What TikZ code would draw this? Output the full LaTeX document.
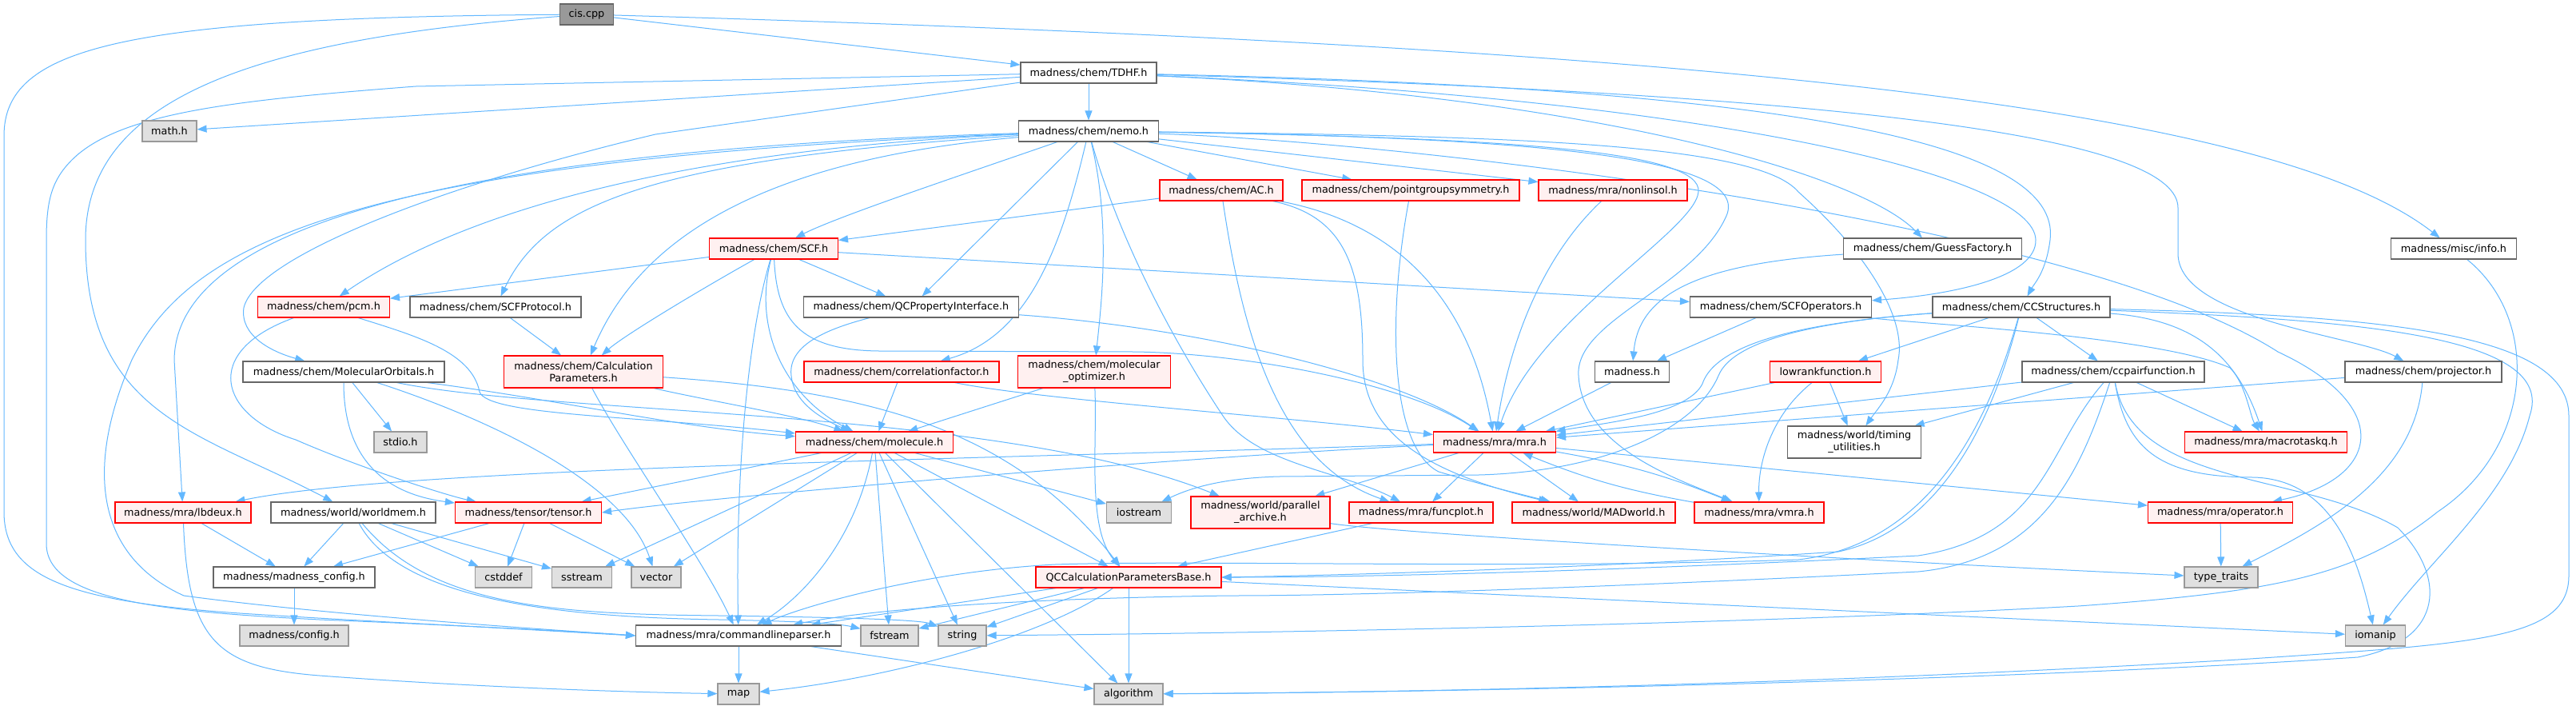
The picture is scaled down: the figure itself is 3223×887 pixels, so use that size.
\documentclass[tikz,border=0pt]{standalone}
\usepackage{fontspec}
\setmainfont{DejaVu Sans}
\usetikzlibrary{arrows.meta}
\definecolor{edgeblue}{HTML}{63B8FF}
\definecolor{truncfill}{HTML}{FFF0F0}
\definecolor{truncdraw}{HTML}{FF0000}
\definecolor{sysfill}{HTML}{E0E0E0}
\definecolor{sysdraw}{HTML}{999999}
\definecolor{plaindraw}{HTML}{666666}
\definecolor{rootfill}{HTML}{999999}
\newcommand{\dxfont}{\fontsize{12.8pt}{15pt}\selectfont}
\pgfdeclarelayer{edgelayer}
\pgfsetlayers{edgelayer,main}
\begin{document}
\begin{tikzpicture}[x=1pt,y=-1pt,
  nb/.style={rectangle, minimum height=26pt, inner sep=0pt, line width=1.1pt, font=\dxfont, align=center, text=black},
  plainbox/.style={nb, draw=plaindraw, fill=white},
  truncbox/.style={nb, draw=truncdraw, fill=truncfill},
  sysbox/.style={nb, draw=sysdraw, fill=sysfill},
  rootbox/.style={nb, draw=plaindraw, fill=rootfill},
  conn/.style={draw=edgeblue, line width=1pt, -{Triangle[length=12pt,width=9pt]}}]
\useasboundingbox (0,0) rectangle (3223,887);
% nodes
\node[rootbox, minimum width=67pt] (cis) at (734,18) {cis.cpp};
\node[plainbox, minimum width=170pt] (tdhf) at (1362,91) {madness/chem/TDHF.h};
\node[sysbox, minimum width=68pt] (mathh) at (212,164) {math.h};
\node[plainbox, minimum width=175pt] (nemo) at (1362,164) {madness/chem/nemo.h};
\node[truncbox, minimum width=154pt] (ac) at (1528,238) {madness/chem/AC.h};
\node[truncbox, minimum width=272pt] (pgs) at (1765,238) {madness/chem/pointgroupsymmetry.h};
\node[truncbox, minimum width=186pt] (nonlin) at (2018,238) {madness/mra/nonlinsol.h};
\node[truncbox, minimum width=161pt] (scf) at (968,311) {madness/chem/SCF.h};
\node[plainbox, minimum width=223pt] (guess) at (2418,311) {madness/chem/GuessFactory.h};
\node[plainbox, minimum width=157pt] (info) at (3070,311) {madness/misc/info.h};
\node[truncbox, minimum width=165pt] (pcm) at (405,384) {madness/chem/pcm.h};
\node[plainbox, minimum width=214pt] (scfprot) at (620,384) {madness/chem/SCFProtocol.h};
\node[plainbox, minimum width=269pt] (qcprop) at (1140,384) {madness/chem/QCPropertyInterface.h};
\node[plainbox, minimum width=227pt] (scfops) at (2228,384) {madness/chem/SCFOperators.h};
\node[plainbox, minimum width=222pt] (ccstruct) at (2529,384) {madness/chem/CCStructures.h};
\node[plainbox, minimum width=252pt] (mo) at (430,465) {madness/chem/MolecularOrbitals.h};
\node[truncbox, minimum width=199pt, minimum height=40pt] (calcp) at (730,465) {madness/chem/Calculation\\Parameters.h};
\node[truncbox, minimum width=244pt] (corrf) at (1128,465) {madness/chem/correlationfactor.h};
\node[truncbox, minimum width=191pt, minimum height=40pt] (molopt) at (1369,465) {madness/chem/molecular\\\_optimizer.h};
\node[plainbox, minimum width=93pt] (madnessh) at (2042,465) {madness.h};
\node[truncbox, minimum width=139pt] (lowrank) at (2284,465) {lowrankfunction.h};
\node[plainbox, minimum width=228pt] (ccpair) at (2644,465) {madness/chem/ccpairfunction.h};
\node[plainbox, minimum width=196pt] (proj) at (3032,465) {madness/chem/projector.h};
\node[sysbox, minimum width=66pt] (stdio) at (501,553) {stdio.h};
\node[truncbox, minimum width=197pt] (molecule) at (1094,553) {madness/chem/molecule.h};
\node[truncbox, minimum width=153pt] (mra) at (1870,553) {madness/mra/mra.h};
\node[plainbox, minimum width=167pt, minimum height=40pt] (timing) at (2320,553) {madness/world/timing\\\_utilities.h};
\node[truncbox, minimum width=203pt] (macrotaskq) at (2835,553) {madness/mra/macrotaskq.h};
\node[truncbox, minimum width=170pt] (lbdeux) at (229,641) {madness/mra/lbdeux.h};
\node[plainbox, minimum width=206pt] (worldmem) at (442,641) {madness/world/worldmem.h};
\node[truncbox, minimum width=183pt] (tensor) at (661,641) {madness/tensor/tensor.h};
\node[sysbox, minimum width=81pt] (iostream) at (1425,641) {iostream};
\node[truncbox, minimum width=174pt, minimum height=40pt] (parar) at (1577,641) {madness/world/parallel\\\_archive.h};
\node[truncbox, minimum width=180pt] (funcplot) at (1778,641) {madness/mra/funcplot.h};
\node[truncbox, minimum width=204pt] (madworld) at (1994,641) {madness/world/MADworld.h};
\node[truncbox, minimum width=162pt] (vmra) at (2201,641) {madness/mra/vmra.h};
\node[truncbox, minimum width=181pt] (operator) at (2778,641) {madness/mra/operator.h};
\node[plainbox, minimum width=202pt] (mconfig) at (368,722) {madness/madness\_config.h};
\node[sysbox, minimum width=71pt] (cstddef) at (630,722) {cstddef};
\node[sysbox, minimum width=75pt] (sstream) at (728,722) {sstream};
\node[sysbox, minimum width=62pt] (vector) at (821,722) {vector};
\node[truncbox, minimum width=232pt] (qcbase) at (1412,722) {QCCalculationParametersBase.h};
\node[sysbox, minimum width=92pt] (typetr) at (2779,722) {type\_traits};
\node[sysbox, minimum width=136pt] (config) at (368,795) {madness/config.h};
\node[plainbox, minimum width=257pt] (clp) at (924,795) {madness/mra/commandlineparser.h};
\node[sysbox, minimum width=72pt] (fstream) at (1113,795) {fstream};
\node[sysbox, minimum width=60pt] (string) at (1204,795) {string};
\node[sysbox, minimum width=75pt] (iomanip) at (2972,795) {iomanip};
\node[sysbox, minimum width=52pt] (map) at (924,868) {map};
\node[sysbox, minimum width=86pt] (algorithm) at (1412,868) {algorithm};
\begin{pgfonlayer}{edgelayer}
\fill[white] (0,0) rectangle (3223,887);
% cis.cpp
\draw[conn] (cis) -- (tdhf);
\draw[conn] (cis) .. controls (2200,60) and (2850,140) .. (info);
\draw[conn] (cis) .. controls (300,50) and (107,130) .. (107,300) .. controls (107,520) and (250,540) .. (worldmem);
\draw[conn] (cis) .. controls (150,22) and (5,60) .. (5,170) -- (5,640) .. controls (5,720) and (80,752) .. (300,767) .. controls (500,780) and (700,788) .. (clp.west);
% TDHF
\draw[conn] (tdhf) -- (nemo);
\draw[conn] (tdhf) -- (mathh);
\draw[conn] (tdhf) -- (520,108) .. controls (300,125) and (150,140) .. (90,200) .. controls (65,225) and (58,250) .. (58,300) -- (58,680) .. controls (58,750) and (200,765) .. (400,775) .. controls (600,783) and (700,790) .. (clp.west);
\draw[conn] (tdhf) -- (820,168) .. controls (560,230) and (320,320) .. (305,385) .. controls (300,420) and (340,440) .. (mo);
\draw[conn] (tdhf) .. controls (2250,110) and (2580,180) .. (2565,300) .. controls (2560,340) and (2545,355) .. (ccstruct);
\draw[conn] (tdhf) .. controls (2000,120) and (2330,220) .. (guess);
\draw[conn] (tdhf) .. controls (2150,125) and (2545,220) .. (2547,300) .. controls (2548,345) and (2450,368) .. (scfops);
\draw[conn] (tdhf) .. controls (2400,120) and (2725,180) .. (2725,260) -- (2725,317) .. controls (2725,400) and (2950,420) .. (proj);
% nemo
\draw[conn] (nemo) .. controls (1200,220) and (1050,270) .. (scf);
\draw[conn] (nemo) -- (ac);
\draw[conn] (nemo) -- (pgs);
\draw[conn] (nemo) -- (nonlin);
\draw[conn] (nemo) -- (qcprop);
\draw[conn] (nemo) .. controls (1330,300) and (1290,420) .. (corrf);
\draw[conn] (nemo) .. controls (1390,280) and (1378,380) .. (molopt);
\draw[conn] (nemo) .. controls (1400,300) and (1470,430) .. (1530,520) .. controls (1570,580) and (1680,590) .. (funcplot);
\draw[conn] (nemo) .. controls (1900,170) and (2200,180) .. (2250,240) .. controls (2340,320) and (2385,400) .. (2375,450) .. controls (2370,490) and (2350,510) .. (timing);
\draw[conn] (nemo) .. controls (1800,180) and (2600,280) .. (2850,440) .. controls (3000,510) and (2975,600) .. (operator);
\draw[conn] (nemo) .. controls (1900,172) and (2130,190) .. (2125,240) .. controls (2120,290) and (1920,400) .. (mra);
\draw[conn] (nemo) .. controls (1950,172) and (2190,200) .. (2160,270) .. controls (2120,360) and (1970,400) .. (1975,470) .. controls (1980,560) and (2100,600) .. (vmra);
\draw[conn] (nemo) .. controls (900,185) and (600,250) .. (pcm);
\draw[conn] (nemo) .. controls (800,200) and (680,260) .. (scfprot);
\draw[conn] (nemo) .. controls (500,190) and (220,300) .. (218,450) -- (lbdeux);
\draw[conn] (nemo) .. controls (450,200) and (240,300) .. (165,450) .. controls (100,600) and (130,700) .. (230,745) .. controls (400,768) and (650,785) .. (clp.west);
\draw[conn] (nemo) .. controls (950,200) and (800,300) .. (calcp);
% SCF
\draw[conn] (scf) -- (pcm);
\draw[conn] (scf) .. controls (880,360) and (780,420) .. (calcp);
\draw[conn] (scf) .. controls (935,420) and (920,600) .. (clp);
\draw[conn] (scf) .. controls (940,420) and (990,500) .. (molecule);
\draw[conn] (scf) .. controls (972,400) and (1000,438) .. (1100,439) -- (1420,440) .. controls (1560,442) and (1760,480) .. (mra);
\draw[conn] (scf) -- (qcprop);
\draw[conn] (scf) -- (scfops);
% AC
\draw[conn] (ac) -- (scf);
\draw[conn] (ac) .. controls (1700,270) and (1830,330) .. (mra);
\draw[conn] (ac) .. controls (1555,420) and (1600,580) .. (funcplot);
\draw[conn] (ac) .. controls (1680,270) and (1705,330) .. (1705,450) .. controls (1705,540) and (1780,590) .. (madworld);
% others upper
\draw[conn] (pgs) .. controls (1735,400) and (1740,560) .. (1800,590) .. controls (1850,605) and (1890,615) .. (madworld);
\draw[conn] (nonlin) .. controls (1920,330) and (1885,450) .. (mra);
\draw[conn] (guess) .. controls (2120,330) and (2050,370) .. (madnessh);
\draw[conn] (scfops) -- (madnessh);
\draw[conn] (scfops) .. controls (2400,405) and (2700,420) .. (2790,460) .. controls (2810,480) and (2815,520) .. (macrotaskq);
\draw[conn] (info) .. controls (3180,400) and (3170,560) .. (3050,640) .. controls (2950,720) and (2850,740) .. (2600,758) .. controls (2200,780) and (1600,792) .. (string);
% CCStructures
\draw[conn] (ccstruct) -- (ccpair);
\draw[conn] (ccstruct) -- (lowrank);
\draw[conn] (ccstruct) .. controls (2300,400) and (2150,420) .. (2130,480) .. controls (2110,520) and (2000,530) .. (mra);
\draw[conn] (ccstruct) .. controls (2300,400) and (2170,420) .. (2150,470) .. controls (2120,540) and (2000,590) .. (1850,594) -- (1600,596) .. controls (1530,598) and (1490,610) .. (iostream);
\draw[conn] (ccstruct) .. controls (2500,500) and (2440,660) .. (2300,690) .. controls (2000,710) and (1700,719) .. (qcbase.east);
\draw[conn] (ccstruct) .. controls (2490,520) and (2420,680) .. (2250,700) .. controls (1900,712) and (1500,700) .. (1320,706) .. controls (1150,715) and (1000,760) .. (clp);
\draw[conn] (ccstruct) .. controls (2750,400) and (2800,450) .. (macrotaskq);
\draw[conn] (ccstruct) .. controls (3000,395) and (3214,420) .. (3214,520) -- (3214,720) .. controls (3214,800) and (3100,805) .. (2800,825) .. controls (2200,860) and (1700,866) .. (algorithm);
\draw[conn] (ccstruct) .. controls (2950,400) and (3200,420) .. (3165,520) .. controls (3140,620) and (3040,700) .. (iomanip);
% ccpairfunction
\draw[conn] (ccpair) -- (macrotaskq);
\draw[conn] (ccpair) -- (mra);
\draw[conn] (ccpair) -- (timing);
\draw[conn] (ccpair) .. controls (2560,560) and (2560,670) .. (2400,695) .. controls (2000,715) and (1700,722) .. (qcbase.east);
\draw[conn] (ccpair) .. controls (2600,600) and (2550,700) .. (2400,715) .. controls (2000,735) and (1700,745) .. (1540,745) .. controls (1300,748) and (1100,760) .. (clp);
\draw[conn] (ccpair) .. controls (2660,560) and (2700,597) .. (2820,597) .. controls (2920,600) and (2950,700) .. (iomanip);
\draw[conn] (ccpair) .. controls (2670,610) and (2880,590) .. (3000,660) .. controls (3060,720) and (3060,800) .. (2950,822) .. controls (2500,852) and (1800,866) .. (algorithm);
% lowrank, madness.h, projector
\draw[conn] (lowrank) -- (mra);
\draw[conn] (lowrank) -- (timing);
\draw[conn] (lowrank) .. controls (2215,520) and (2200,580) .. (vmra);
\draw[conn] (madnessh) -- (mra);
\draw[conn] (proj) .. controls (3020,600) and (2900,660) .. (typetr);
\draw[conn] (proj) -- (mra);
% mra
\draw[conn] (mra) .. controls (1200,575) and (500,585) .. (lbdeux);
\draw[conn] (mra) .. controls (1500,570) and (900,620) .. (tensor.east);
\draw[conn] (mra) -- (parar);
\draw[conn] (mra) -- (funcplot);
\draw[conn] (mra) -- (madworld);
\draw[conn] (mra) to[bend left=6] (vmra);
\draw[conn] (vmra) to[bend left=6] (mra);
\draw[conn] (mra) -- (operator);
\draw[conn] (funcplot) -- (qcbase);
\draw[conn] (parar) .. controls (1750,668) and (2400,705) .. (typetr);
\draw[conn] (operator) -- (typetr);
% pcm, SCFProtocol, QCPropertyInterface
\draw[conn] (pcm) .. controls (250,440) and (275,520) .. (370,550) .. controls (450,585) and (560,620) .. (tensor);
\draw[conn] (pcm) .. controls (520,420) and (590,440) .. (600,490) .. controls (610,520) and (800,520) .. (molecule);
\draw[conn] (scfprot) -- (calcp);
\draw[conn] (qcprop) .. controls (1040,410) and (985,430) .. (990,470) .. controls (993,500) and (1020,520) .. (molecule);
\draw[conn] (qcprop) .. controls (1500,410) and (1750,470) .. (mra);
% MolecularOrbitals
\draw[conn] (mo) -- (stdio);
\draw[conn] (mo) .. controls (430,590) and (500,620) .. (tensor);
\draw[conn] (mo) .. controls (600,520) and (780,600) .. (vector);
\draw[conn] (mo) .. controls (700,500) and (850,535) .. (molecule);
\draw[conn] (mo) .. controls (700,520) and (1250,510) .. (parar);
% CalculationParameters, correlationfactor, molecular_optimizer
\draw[conn] (calcp) .. controls (880,500) and (1000,520) .. (molecule);
\draw[conn] (calcp) .. controls (1100,490) and (1270,540) .. (qcbase);
\draw[conn] (calcp) .. controls (780,560) and (880,700) .. (clp);
\draw[conn] (corrf) -- (molecule);
\draw[conn] (corrf) .. controls (1300,500) and (1600,520) .. (mra);
\draw[conn] (molopt) -- (molecule);
\draw[conn] (molopt) .. controls (1373,560) and (1360,660) .. (qcbase);
% molecule
\draw[conn] (molecule) -- (tensor);
\draw[conn] (molecule) -- (sstream);
\draw[conn] (molecule) -- (vector);
\draw[conn] (molecule) .. controls (1070,680) and (1000,750) .. (clp);
\draw[conn] (molecule) -- (fstream);
\draw[conn] (molecule) -- (string);
\draw[conn] (molecule) -- (algorithm);
\draw[conn] (molecule) -- (qcbase);
\draw[conn] (molecule) -- (iostream);
% worldmem, lbdeux, tensor, config
\draw[conn] (worldmem) -- (mconfig);
\draw[conn] (worldmem) -- (cstddef);
\draw[conn] (worldmem) -- (sstream);
\draw[conn] (worldmem) .. controls (500,750) and (700,772) .. (900,775) .. controls (1000,777) and (1050,780) .. (fstream);
\draw[conn] (worldmem) .. controls (540,760) and (700,768) .. (900,770) .. controls (1050,772) and (1150,775) .. (string);
\draw[conn] (lbdeux) -- (mconfig);
\draw[conn] (lbdeux) .. controls (235,800) and (270,835) .. (400,845) .. controls (600,860) and (800,866) .. (map);
\draw[conn] (tensor) -- (mconfig);
\draw[conn] (tensor) -- (cstddef);
\draw[conn] (tensor) -- (vector);
\draw[conn] (mconfig) -- (config);
% QCCalculationParametersBase, commandlineparser
\draw[conn] (qcbase) -- (clp);
\draw[conn] (qcbase) -- (fstream);
\draw[conn] (qcbase) -- (string);
\draw[conn] (qcbase) .. controls (1300,800) and (1100,850) .. (map);
\draw[conn] (qcbase) -- (algorithm);
\draw[conn] (qcbase) -- (iomanip);
\draw[conn] (clp) -- (map);
\draw[conn] (clp) -- (algorithm);
\end{pgfonlayer}
\end{tikzpicture}
\end{document}
